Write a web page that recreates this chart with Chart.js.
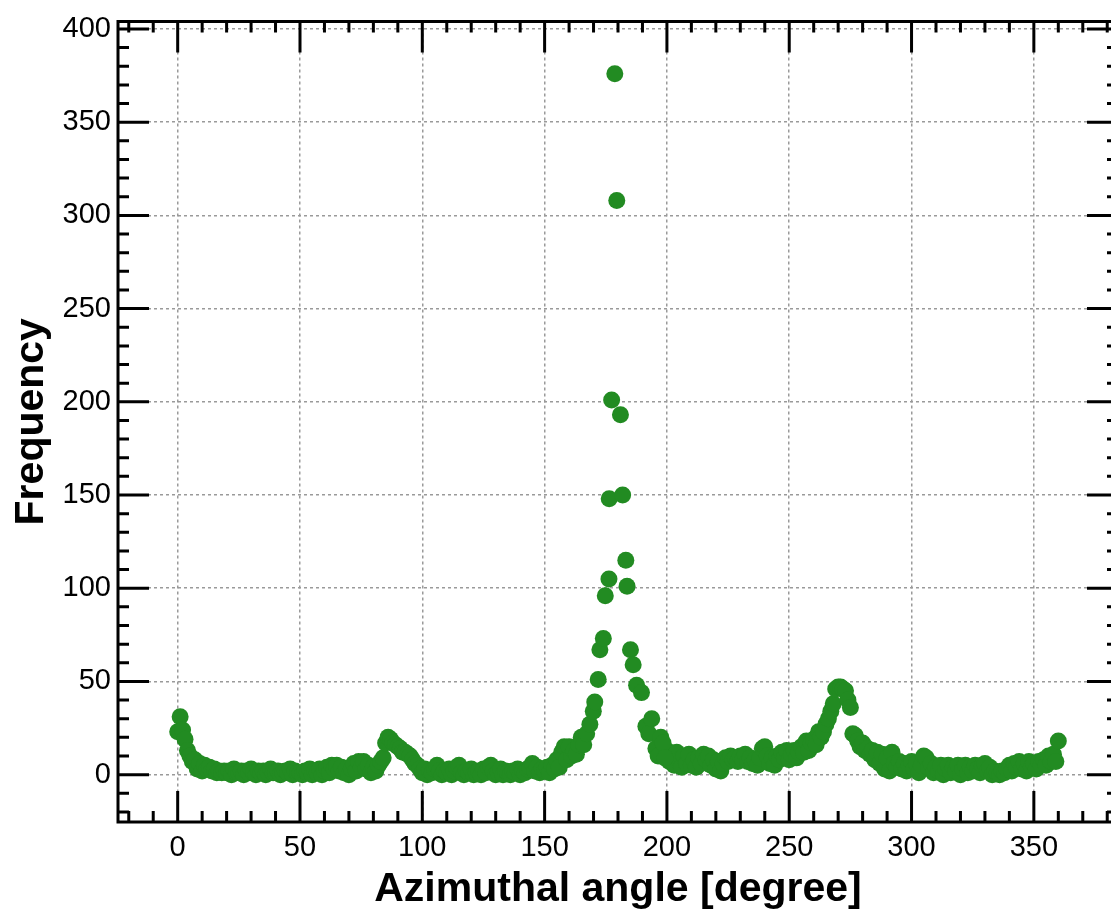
<!DOCTYPE html>
<html>
<head>
<meta charset="utf-8">
<script src="https://cdn.jsdelivr.net/npm/chart.js@4.4.1/dist/chart.umd.min.js"></script>
<style>
  html, body { margin: 0; padding: 0; background: #fff; overflow: hidden; }
  #wrap { width: 1130px; height: 912px; }
</style>
</head>
<body>
<div id="wrap"><canvas id="azimuthChart" width="1130" height="912"></canvas></div>
<script>
// ============================
// DATA (frequency per 1-degree bin)
// ============================
const counts000to059 = [
  23, 31, 24, 19, 13, 10, 7, 8, 3, 6, 2, 5, 3, 4, 2, 3, 1, 2, 1, 2,
  1, 2, 0, 3, 1, 1, 2, 0, 2, 1, 3, 1, 0, 2, 1, 2, 0, 1, 3, 1,
  1, 2, 0, 1, 2, 1, 3, 0, 2, 1, 1, 0, 2, 1, 3, 0, 2, 1, 3, 0
];
const counts060to119 = [
  2, 4, 1, 5, 3, 5, 2, 4, 1, 3, 0, 3, 6, 2, 7, 4, 7, 3, 5, 1,
  4, 2, 5, 7, 9, 17, 20, 19, 17, 16, 15, 14, 12, 12, 11, 10, 8, 6, 5, 3,
  1, 3, 0, 2, 1, 3, 5, 2, 0, 2, 1, 3, 0, 2, 4, 5, 1, 0, 2, 1
];
const counts120to165 = [
  3, 0, 1, 2, 0, 3, 1, 4, 5, 2, 0, 1, 3, 0, 2, 1, 0, 2, 1, 3,
  0, 2, 1, 3, 4, 6, 2, 4, 1, 3, 2, 4, 1, 5, 3, 8, 4, 12, 15, 8,
  15, 10, 13, 11, 16, 20
];
// main peak around 180 deg (angles read individually)
const peakAngles = [
  166.0, 167.2, 168.5, 169.9, 170.5, 171.9, 172.6, 174.0, 174.8, 176.3,
  176.4, 177.4, 178.7, 179.5, 181.0, 181.9, 183.2, 183.7, 185.1, 186.2,
  187.6, 189.6, 191.4, 192.6, 193.8, 195.5, 196.4, 197.5, 198.4, 199.2
];
const peakCounts = [
  16, 22, 27, 34, 39, 51, 67, 73, 96, 105,
  148, 201, 376, 308, 193, 150, 115, 101, 67, 59,
  48, 44, 26, 22, 30, 14, 10, 20, 17, 9
];
const counts200to259 = [
  13, 7, 11, 5, 12, 8, 4, 10, 6, 11, 5, 8, 4, 9, 6, 11, 8, 10, 5, 8,
  3, 7, 2, 6, 9, 7, 10, 8, 9, 7, 10, 8, 11, 7, 9, 6, 8, 5, 9, 14,
  15, 10, 6, 9, 5, 10, 8, 12, 9, 13, 8, 11, 13, 9, 12, 15, 12, 18, 13, 17
];
const counts260to319 = [
  19, 16, 23, 20, 23, 27, 30, 34, 38, 46, 47, 47, 46, 45, 40, 36, 22, 21, 18, 15,
  17, 13, 14, 11, 13, 8, 12, 6, 11, 3, 9, 2, 12, 6, 4, 7, 3, 6, 2, 5,
  7, 3, 6, 1, 5, 10, 9, 4, 6, 1, 4, 2, 5, 0, 3, 5, 1, 4, 2, 5
];
const counts320to360 = [
  0, 3, 5, 1, 4, 2, 5, 3, 1, 5, 6, 2, 4, 0, 2, 1, 0, 2, 1, 3,
  5, 2, 6, 4, 7, 3, 6, 2, 7, 4, 6, 3, 7, 5, 8, 5, 10, 7, 11, 7, 18
];

const xTickValues = [0, 50, 100, 150, 200, 250, 300, 350];
const yTickValues = [0, 50, 100, 150, 200, 250, 300, 350, 400];

// ============================
// BUILD POINTS
// ============================
const binnedSegments = [
  [0, counts000to059],
  [60, counts060to119],
  [120, counts120to165],
  [200, counts200to259],
  [260, counts260to319],
  [320, counts320to360]
];
const points = [];
binnedSegments.forEach(([start, vals]) => {
  vals.forEach((v, i) => points.push({ x: start + i, y: v }));
});
peakAngles.forEach((a, i) => points.push({ x: a, y: peakCounts[i] }));

// ============================
// FRAME + INWARD TICKS
// ============================
const MAJOR_LEN = 31;
const MINOR_LEN = 11;
const MINOR_STEP = 10;

const frameTicks = {
  id: "frameTicks",
  afterDraw(chart) {
    const { ctx, chartArea: a, scales: { x, y } } = chart;
    ctx.save();
    ctx.strokeStyle = "#000";
    ctx.lineWidth = 3;
    ctx.beginPath();
    for (let v = Math.ceil(x.min / MINOR_STEP) * MINOR_STEP; v <= x.max; v += MINOR_STEP) {
      const px = x.getPixelForValue(v);
      const len = xTickValues.includes(v) ? MAJOR_LEN : MINOR_LEN;
      ctx.moveTo(px, a.bottom); ctx.lineTo(px, a.bottom - len);
      ctx.moveTo(px, a.top); ctx.lineTo(px, a.top + len);
    }
    for (let v = Math.ceil(y.min / MINOR_STEP) * MINOR_STEP; v <= y.max; v += MINOR_STEP) {
      const py = y.getPixelForValue(v);
      const len = yTickValues.includes(v) ? MAJOR_LEN : MINOR_LEN;
      ctx.moveTo(a.left, py); ctx.lineTo(a.left + len, py);
      ctx.moveTo(a.right, py); ctx.lineTo(a.right - len, py);
    }
    ctx.stroke();
    ctx.strokeRect(a.left, a.top, a.right - a.left, a.bottom - a.top);
    ctx.restore();
  }
};

// ============================
// CHART
// ============================
Chart.defaults.font.family = "'Liberation Sans', Arial, sans-serif";
Chart.defaults.color = "#000";

const gridStyle = {
  color: "#9a9a9a",
  lineWidth: 1.5,
  drawTicks: false
};

new Chart(document.getElementById("azimuthChart"), {
  type: "scatter",
  data: {
    datasets: [{
      data: points,
      backgroundColor: "#228b22",
      borderWidth: 0,
      pointRadius: 8.5,
      pointHoverRadius: 8.5
    }]
  },
  options: {
    responsive: false,
    devicePixelRatio: 1,
    animation: false,
    layout: { padding: { top: 15, right: 12, left: 0, bottom: 0 } },
    plugins: {
      legend: { display: false },
      tooltip: { enabled: false }
    },
    scales: {
      x: {
        type: "linear",
        min: -24.4,
        max: 384.4,
        afterBuildTicks: s => { s.ticks = xTickValues.map(value => ({ value })); },
        afterFit: s => { s.height = 90; },
        grid: gridStyle,
        border: { display: false, dash: [3, 3] },
        ticks: { padding: 11, font: { size: 29, lineHeight: 1 }, maxRotation: 0 },
        title: {
          display: true,
          text: "Azimuthal angle [degree]",
          font: { size: 41, weight: "bold", lineHeight: 1 },
          padding: { top: 0, bottom: 2 }
        }
      },
      y: {
        min: -25.4,
        max: 404,
        afterBuildTicks: s => { s.ticks = yTickValues.map(value => ({ value })); },
        afterFit: s => { s.width = 118; },
        grid: gridStyle,
        border: { display: false, dash: [3, 3] },
        ticks: { padding: 7, font: { size: 29, lineHeight: 1 } },
        title: {
          display: true,
          text: "Frequency",
          font: { size: 41, weight: "bold", lineHeight: 1 },
          padding: { top: 11, bottom: 0 }
        }
      }
    }
  },
  plugins: [frameTicks]
});
</script>
</body>
</html>
